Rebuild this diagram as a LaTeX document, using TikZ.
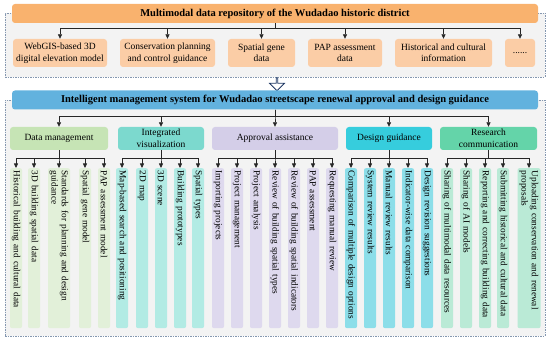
\documentclass[tikz,border=0pt]{standalone}
\usepackage{fontspec}
\setmainfont{Liberation Serif}
\usetikzlibrary{positioning, arrows.meta, shapes.arrows}
\definecolor{RepoOrange}{RGB}{249,178,110}
\definecolor{RepoLight}{RGB}{251,205,166}
\definecolor{SysBlue}{RGB}{98,178,222}
\definecolor{PanelGrey}{RGB}{243,243,243}
\definecolor{PanelLine}{RGB}{132,151,176}
\definecolor{FlowBlue}{RGB}{31,56,100}
\definecolor{DMdark}{RGB}{198,228,181}
\definecolor{DMlight}{RGB}{226,240,217}
\definecolor{IVdark}{RGB}{124,217,206}
\definecolor{IVlight}{RGB}{178,235,228}
\definecolor{AAdark}{RGB}{212,206,232}
\definecolor{AAlight}{RGB}{222,217,238}
\definecolor{DGdark}{RGB}{54,205,221}
\definecolor{DGlight}{RGB}{140,222,233}
\definecolor{RCdark}{RGB}{100,212,169}
\definecolor{RClight}{RGB}{186,234,214}

\begin{document}
\begin{tikzpicture}[
  x=1pt, y=-1pt,
  font=\fontsize{9.5}{11.5}\selectfont,
  panel/.style={draw=PanelLine, fill=PanelGrey, dash pattern=on 1.5pt off 1pt, line width=0.8pt, minimum width=540pt, inner sep=0pt},
  headbox/.style={rounded corners=3pt, minimum width=526pt, minimum height=19pt, inner sep=0pt, font=\fontsize{10.5}{12}\selectfont\bfseries},
  srcbox/.style={fill=RepoLight, rounded corners=3pt, align=center, minimum height=28pt, inner sep=0pt},
  catbox/.style={rounded corners=3pt, align=center, minimum height=23pt, inner sep=0pt},
  leaf/.style={rotate=-90, anchor=west, rounded corners=2pt, minimum height=12pt, text width=155pt, align=left, inner xsep=2.5pt, inner ysep=0pt, font=\fontsize{9.3}{10.3}\selectfont},
  arr/.style={-{Triangle[length=4.5pt,width=4pt]}, line width=0.7pt, black!85},
]
\useasboundingbox (0,0) rectangle (550,342);

% Panels
\node[panel, minimum height=64pt] (toppanel) at (275,45) {};
\node[panel, minimum height=236pt] (mainpanel) at (275,218) {};

% Top: data repository
\node[headbox, fill=RepoOrange] (repo) at (275,13.5) {Multimodal data repository of the Wudadao historic district};
\node[srcbox, minimum width=94pt] (webgis)   at (60,53)    {WebGIS-based 3D\\digital elevation model};
\node[srcbox, minimum width=95pt] (planning) at (167.5,53) {Conservation planning\\and control guidance};
\node[srcbox, minimum width=67pt] (gene)     at (261.5,53) {Spatial gene\\data};
\node[srcbox, minimum width=74pt] (pap)      at (345,53)   {PAP assessment\\data};
\node[srcbox, minimum width=97pt] (history)  at (443.5,53) {Historical and cultural\\information};
\node[srcbox, minimum width=30pt] (more)     at (520,53)   {......};
\draw[arr] (repo.south) -- ++(0,5) -| (webgis.north);
\draw[arr] (repo.south) -- ++(0,5) -| (planning.north);
\draw[arr] (repo.south) -- ++(0,5) -| (gene.north);
\draw[arr] (repo.south) -- ++(0,5) -| (pap.north);
\draw[arr] (repo.south) -- ++(0,5) -| (history.north);
\draw[arr] (repo.south) -- ++(0,5) -| (more.north);

% Flow between panels
\node[single arrow, draw=FlowBlue, fill=white, line width=0.8pt, shape border rotate=270,
      minimum width=15pt, minimum height=13pt, single arrow head extend=3.5pt,
      inner sep=0pt, anchor=tail, xshift=2pt] (flow) at (toppanel.south) {};

% Bottom: management system
\node[headbox, fill=SysBlue] (system) at (275,100) {Intelligent management system for Wudadao streetscape renewal approval and design guidance};
\node[catbox, fill=DMdark, minimum width=98pt]  (dm) at (59,138.5)  {Data management};
\node[catbox, fill=IVdark, minimum width=86pt]  (iv) at (161,138.5) {Integrated\\visualization};
\node[catbox, fill=AAdark, minimum width=126pt] (aa) at (275,138.5) {Approval assistance};
\node[catbox, fill=DGdark, minimum width=86pt]  (dg) at (389,138.5) {Design guidance};
\node[catbox, fill=RCdark, minimum width=97pt]  (rc) at (488.5,138.5) {Research\\communication};
\draw[arr] (system.south) -- ++(0,7) -| (dm.north);
\draw[arr] (system.south) -- ++(0,7) -| (iv.north);
\draw[arr] (system.south) -- ++(0,7) -| (aa.north);
\draw[arr] (system.south) -- ++(0,7) -| (dg.north);
\draw[arr] (system.south) -- ++(0,7) -| (rc.north);

% Leaves: data management
\node[leaf, fill=DMlight] (dm1) at (16,168) {Historical building and cultural data};
\node[leaf, fill=DMlight] (dm2) at (34,168) {3D building spatial data};
\node[leaf, fill=DMlight, minimum height=22pt] (dm3) at (59,168) {Standards for planning and design\\guidance};
\node[leaf, fill=DMlight] (dm4) at (85,168) {Spatial gene model};
\node[leaf, fill=DMlight] (dm5) at (104,168) {PAP assessment model};
\draw[arr] (dm.south) -- ++(0,8) -| (dm1.west);
\draw[arr] (dm.south) -- ++(0,8) -| (dm2.west);
\draw[arr] (dm.south) -- ++(0,8) -| (dm3.west);
\draw[arr] (dm.south) -- ++(0,8) -| (dm4.west);
\draw[arr] (dm.south) -- ++(0,8) -| (dm5.west);

% Leaves: integrated visualization
\node[leaf, fill=IVlight] (iv1) at (122,168) {Map-based search and positioning};
\node[leaf, fill=IVlight] (iv2) at (142,168) {2D map};
\node[leaf, fill=IVlight] (iv3) at (161,168) {3D scene};
\node[leaf, fill=IVlight] (iv4) at (180,168) {Building prototypes};
\node[leaf, fill=IVlight] (iv5) at (198,168) {Spatial types};
\draw[arr] (iv.south) -- ++(0,8) -| (iv1.west);
\draw[arr] (iv.south) -- ++(0,8) -| (iv2.west);
\draw[arr] (iv.south) -- ++(0,8) -| (iv3.west);
\draw[arr] (iv.south) -- ++(0,8) -| (iv4.west);
\draw[arr] (iv.south) -- ++(0,8) -| (iv5.west);

% Leaves: approval assistance
\node[leaf, fill=AAlight] (aa1) at (218,168) {Importing projects};
\node[leaf, fill=AAlight] (aa2) at (237,168) {Project management};
\node[leaf, fill=AAlight] (aa3) at (256,168) {Project analysis};
\node[leaf, fill=AAlight] (aa4) at (275,168) {Review of building spatial types};
\node[leaf, fill=AAlight] (aa5) at (294,168) {Review of building spatial indicators};
\node[leaf, fill=AAlight] (aa6) at (313,168) {PAP assessment};
\node[leaf, fill=AAlight] (aa7) at (332,168) {Requesting manual review};
\draw[arr] (aa.south) -- ++(0,8) -| (aa1.west);
\draw[arr] (aa.south) -- ++(0,8) -| (aa2.west);
\draw[arr] (aa.south) -- ++(0,8) -| (aa3.west);
\draw[arr] (aa.south) -- ++(0,8) -| (aa4.west);
\draw[arr] (aa.south) -- ++(0,8) -| (aa5.west);
\draw[arr] (aa.south) -- ++(0,8) -| (aa6.west);
\draw[arr] (aa.south) -- ++(0,8) -| (aa7.west);

% Leaves: design guidance
\node[leaf, fill=DGlight] (dg1) at (351,168) {Comparison of multiple design options};
\node[leaf, fill=DGlight] (dg2) at (370,168) {System review results};
\node[leaf, fill=DGlight] (dg3) at (389,168) {Manual review results};
\node[leaf, fill=DGlight] (dg4) at (408,168) {Indicator-wise data comparison};
\node[leaf, fill=DGlight] (dg5) at (427,168) {Design revision suggestions};
\draw[arr] (dg.south) -- ++(0,8) -| (dg1.west);
\draw[arr] (dg.south) -- ++(0,8) -| (dg2.west);
\draw[arr] (dg.south) -- ++(0,8) -| (dg3.west);
\draw[arr] (dg.south) -- ++(0,8) -| (dg4.west);
\draw[arr] (dg.south) -- ++(0,8) -| (dg5.west);

% Leaves: research communication
\node[leaf, fill=RClight] (rc1) at (447,168) {Sharing of multimodal data resources};
\node[leaf, fill=RClight] (rc2) at (466,168) {Sharing of AI models};
\node[leaf, fill=RClight] (rc3) at (485,168) {Reporting and correcting building data};
\node[leaf, fill=RClight] (rc4) at (503,168) {Submitting historical and cultural data};
\node[leaf, fill=RClight, minimum height=23pt] (rc5) at (529,168) {Uploading conservation and renewal\\proposals};
\draw[arr] (rc.south) -- ++(0,8) -| (rc1.west);
\draw[arr] (rc.south) -- ++(0,8) -| (rc2.west);
\draw[arr] (rc.south) -- ++(0,8) -| (rc3.west);
\draw[arr] (rc.south) -- ++(0,8) -| (rc4.west);
\draw[arr] (rc.south) -- ++(0,8) -| (rc5.west);

\end{tikzpicture}
\end{document}
